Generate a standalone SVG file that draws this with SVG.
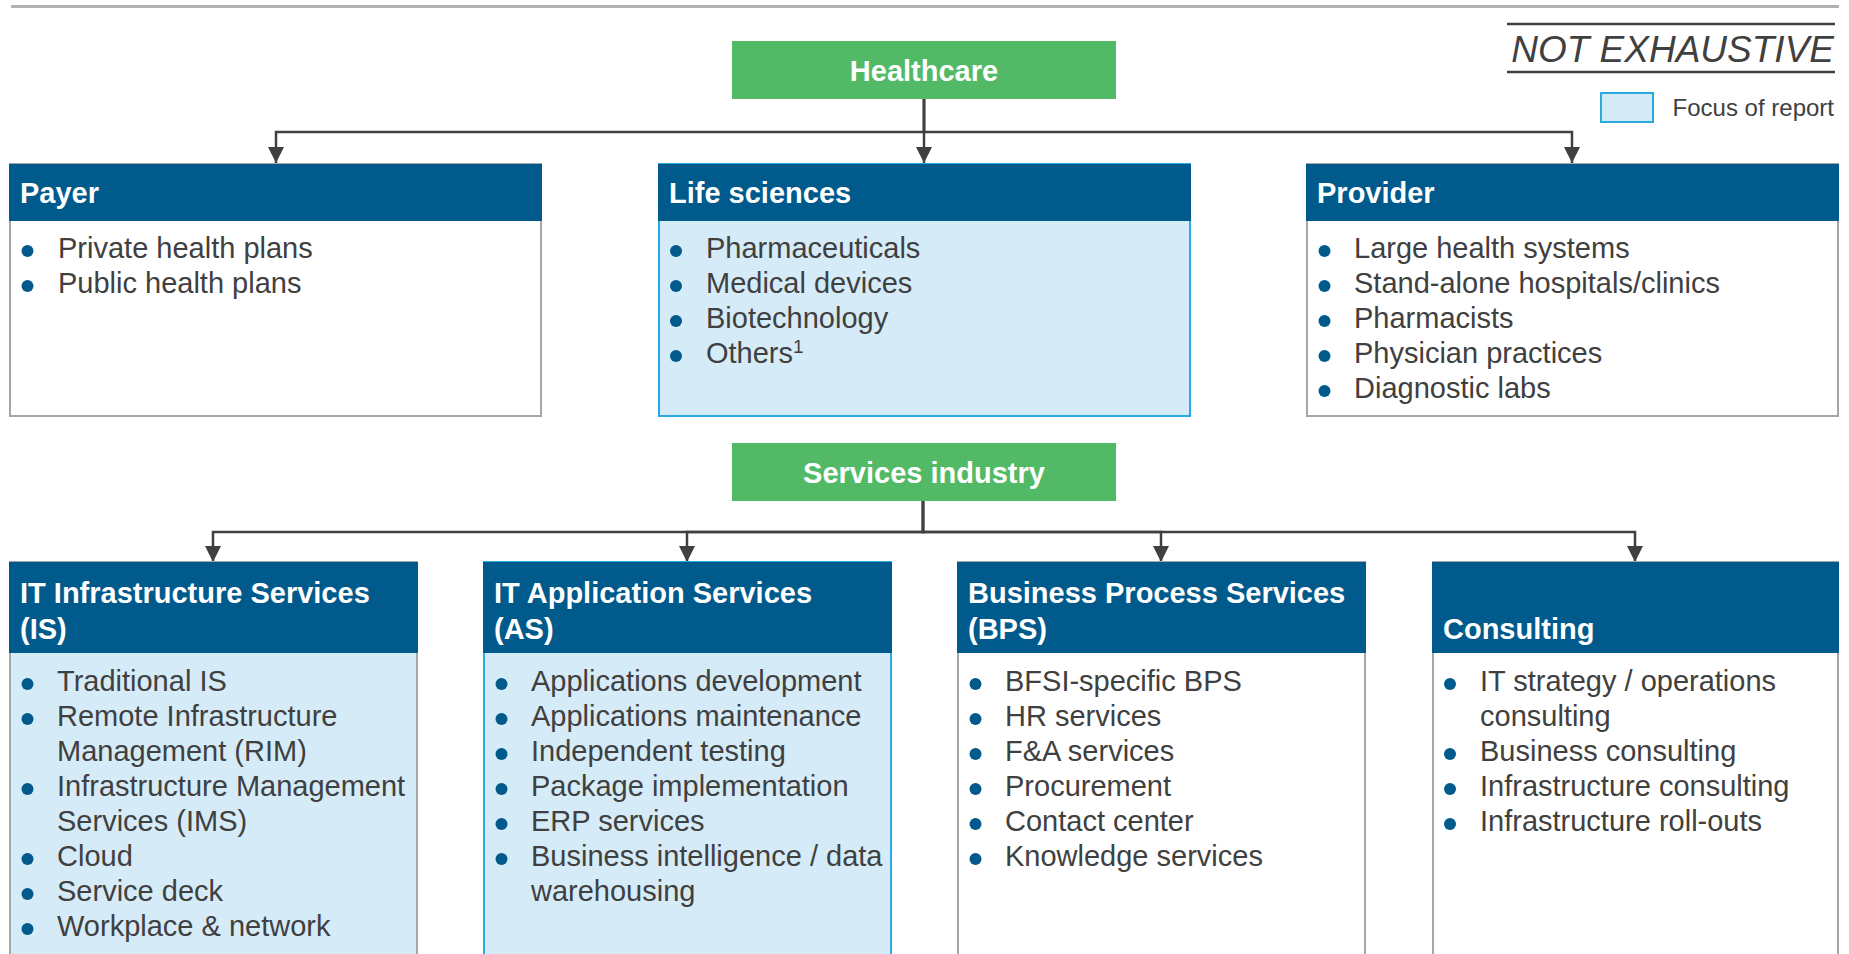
<svg xmlns="http://www.w3.org/2000/svg" width="1849" height="954" viewBox="0 0 1849 954">
<defs>
<style>
text{font-family:"Liberation Sans",Arial,sans-serif;}
.hdr{fill:#005A8C;}
.htx{fill:#ffffff;font-size:29px;font-weight:bold;}
.green{fill:#52BA66;}
.gtx{fill:#ffffff;font-size:29px;font-weight:bold;text-anchor:middle;}
.body{font-size:29px;fill:#404040;}
.plain{fill:#ffffff;stroke:#A6A6A6;stroke-width:2;}
.focus{fill:#D5EBF8;stroke:#29ABE2;stroke-width:2;}
.focusg{fill:#D5EBF8;stroke:#A6A6A6;stroke-width:2;}
.dot{fill:#005A8C;}
.conn{fill:none;stroke:#404040;stroke-width:2.5;marker-end:url(#arr);}
</style>
<marker id="arr" markerUnits="userSpaceOnUse" markerWidth="16" markerHeight="16" viewBox="0 0 16 16" refX="16" refY="8" orient="auto">
<path d="M0,0 L16,8 L0,16 Z" fill="#404040"/>
</marker>
</defs>
<rect x="11" y="5" width="1828" height="3" fill="#B2B2B2"/>

<g id="not-exhaustive">
<line x1="1507" y1="24" x2="1835" y2="24" stroke="#404040" stroke-width="2.5"/>
<text x="1834" y="62" font-size="37" font-style="italic" fill="#404040" text-anchor="end">NOT EXHAUSTIVE</text>
<line x1="1507" y1="72" x2="1835" y2="72" stroke="#404040" stroke-width="2.5"/>
</g>
<g id="legend">
<rect x="1601" y="93" width="52" height="29" class="focus"/>
<text x="1834" y="116" font-size="24" fill="#404040" text-anchor="end">Focus of report</text>
</g>

<g id="connectors">
<path class="conn" d="M924,99 V132 H276 V163"/>
<path class="conn" d="M924,99 V163"/>
<path class="conn" d="M924,99 V132 H1572 V163"/>
<path class="conn" d="M923,501 V532 H213 V562"/>
<path class="conn" d="M923,501 V532 H687 V562"/>
<path class="conn" d="M923,501 V532 H1161 V562"/>
<path class="conn" d="M923,501 V532 H1635 V562"/>
</g>

<g id="healthcare">
<rect x="732" y="41" width="384" height="58" class="green"/>
<text x="924" y="81" class="gtx">Healthcare</text>
</g>

<g id="payer">
<rect x="10" y="164" width="531" height="252" class="plain"/>
<rect x="9" y="164" width="533" height="57" class="hdr"/>
<text x="20" y="203" class="htx">Payer</text>
<circle cx="27.5" cy="251" r="6" class="dot"/>
<circle cx="27.5" cy="286" r="6" class="dot"/>
<text class="body"><tspan x="58" y="258">Private health plans</tspan><tspan x="58" y="293">Public health plans</tspan></text>
</g>

<g id="life-sciences">
<rect x="659" y="164" width="531" height="252" class="focus"/>
<rect x="658" y="164" width="533" height="57" class="hdr"/>
<text x="669" y="203" class="htx">Life sciences</text>
<circle cx="676" cy="251" r="6" class="dot"/>
<circle cx="676" cy="286" r="6" class="dot"/>
<circle cx="676" cy="321" r="6" class="dot"/>
<circle cx="676" cy="356" r="6" class="dot"/>
<text class="body"><tspan x="706" y="258">Pharmaceuticals</tspan><tspan x="706" y="293">Medical devices</tspan><tspan x="706" y="328">Biotechnology</tspan><tspan x="706" y="363">Others<tspan font-size="19" dy="-10">1</tspan></tspan></text>
</g>

<g id="provider">
<rect x="1307" y="164" width="531" height="252" class="plain"/>
<rect x="1306" y="164" width="533" height="57" class="hdr"/>
<text x="1317" y="203" class="htx">Provider</text>
<circle cx="1324.5" cy="251" r="6" class="dot"/>
<circle cx="1324.5" cy="286" r="6" class="dot"/>
<circle cx="1324.5" cy="321" r="6" class="dot"/>
<circle cx="1324.5" cy="356" r="6" class="dot"/>
<circle cx="1324.5" cy="391" r="6" class="dot"/>
<text class="body"><tspan x="1354" y="258">Large health systems</tspan><tspan x="1354" y="293">Stand-alone hospitals/clinics</tspan><tspan x="1354" y="328">Pharmacists</tspan><tspan x="1354" y="363">Physician practices</tspan><tspan x="1354" y="398">Diagnostic labs</tspan></text>
</g>

<g id="services-industry">
<rect x="732" y="443" width="384" height="58" class="green"/>
<text x="924" y="483" class="gtx">Services industry</text>
</g>

<g id="is">
<rect x="10" y="562" width="407" height="410" class="focusg"/>
<rect x="9" y="562" width="409" height="91" class="hdr"/>
<text class="htx"><tspan x="20" y="603">IT Infrastructure Services</tspan><tspan x="20" y="639">(IS)</tspan></text>
<circle cx="27.5" cy="684" r="6" class="dot"/>
<circle cx="27.5" cy="719" r="6" class="dot"/>
<circle cx="27.5" cy="789" r="6" class="dot"/>
<circle cx="27.5" cy="859" r="6" class="dot"/>
<circle cx="27.5" cy="894" r="6" class="dot"/>
<circle cx="27.5" cy="929" r="6" class="dot"/>
<text class="body"><tspan x="57" y="691">Traditional IS</tspan><tspan x="57" y="726">Remote Infrastructure</tspan><tspan x="57" y="761">Management (RIM)</tspan><tspan x="57" y="796">Infrastructure Management</tspan><tspan x="57" y="831">Services (IMS)</tspan><tspan x="57" y="866">Cloud</tspan><tspan x="57" y="901">Service deck</tspan><tspan x="57" y="936">Workplace &amp; network</tspan></text>
</g>

<g id="as">
<rect x="484" y="562" width="407" height="410" class="focus"/>
<rect x="483" y="562" width="409" height="91" class="hdr"/>
<text class="htx"><tspan x="494" y="603">IT Application Services</tspan><tspan x="494" y="639">(AS)</tspan></text>
<circle cx="501.5" cy="684" r="6" class="dot"/>
<circle cx="501.5" cy="719" r="6" class="dot"/>
<circle cx="501.5" cy="754" r="6" class="dot"/>
<circle cx="501.5" cy="789" r="6" class="dot"/>
<circle cx="501.5" cy="824" r="6" class="dot"/>
<circle cx="501.5" cy="859" r="6" class="dot"/>
<text class="body"><tspan x="531" y="691">Applications development</tspan><tspan x="531" y="726">Applications maintenance</tspan><tspan x="531" y="761">Independent testing</tspan><tspan x="531" y="796">Package implementation</tspan><tspan x="531" y="831">ERP services</tspan><tspan x="531" y="866">Business intelligence / data</tspan><tspan x="531" y="901">warehousing</tspan></text>
</g>

<g id="bps">
<rect x="958" y="562" width="407" height="410" class="plain"/>
<rect x="957" y="562" width="409" height="91" class="hdr"/>
<text class="htx"><tspan x="968" y="603">Business Process Services</tspan><tspan x="968" y="639">(BPS)</tspan></text>
<circle cx="975.5" cy="684" r="6" class="dot"/>
<circle cx="975.5" cy="719" r="6" class="dot"/>
<circle cx="975.5" cy="754" r="6" class="dot"/>
<circle cx="975.5" cy="789" r="6" class="dot"/>
<circle cx="975.5" cy="824" r="6" class="dot"/>
<circle cx="975.5" cy="859" r="6" class="dot"/>
<text class="body"><tspan x="1005" y="691">BFSI-specific BPS</tspan><tspan x="1005" y="726">HR services</tspan><tspan x="1005" y="761">F&amp;A services</tspan><tspan x="1005" y="796">Procurement</tspan><tspan x="1005" y="831">Contact center</tspan><tspan x="1005" y="866">Knowledge services</tspan></text>
</g>

<g id="consulting">
<rect x="1433" y="562" width="405" height="410" class="plain"/>
<rect x="1432" y="562" width="407" height="91" class="hdr"/>
<text x="1443" y="639" class="htx">Consulting</text>
<circle cx="1450" cy="684" r="6" class="dot"/>
<circle cx="1450" cy="754" r="6" class="dot"/>
<circle cx="1450" cy="789" r="6" class="dot"/>
<circle cx="1450" cy="824" r="6" class="dot"/>
<text class="body"><tspan x="1480" y="691">IT strategy / operations</tspan><tspan x="1480" y="726">consulting</tspan><tspan x="1480" y="761">Business consulting</tspan><tspan x="1480" y="796">Infrastructure consulting</tspan><tspan x="1480" y="831">Infrastructure roll-outs</tspan></text>
</g>
</svg>
